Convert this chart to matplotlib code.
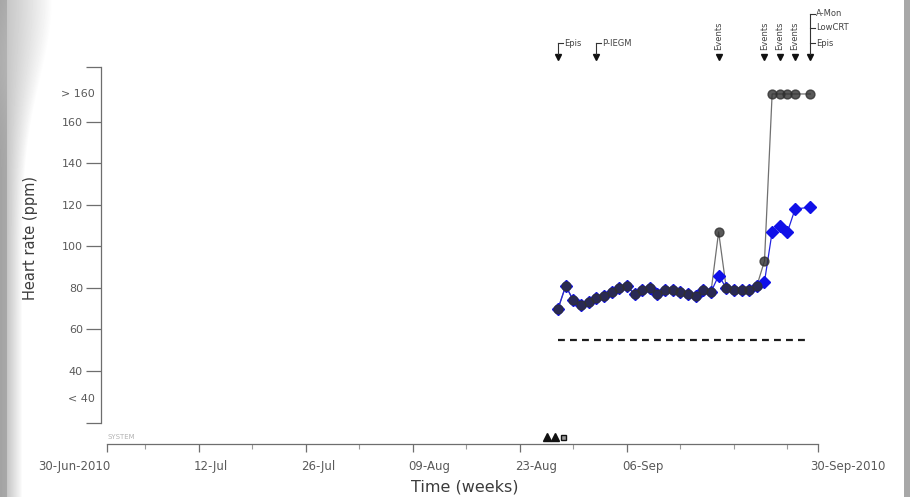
import numpy as np
import pandas as pd
import matplotlib
matplotlib.use("Agg")
import matplotlib.pyplot as plt
import matplotlib.dates as mdates
from matplotlib.transforms import blended_transform_factory, ScaledTranslation

W, H, DPI = 910, 497, 100

# ---- data -------------------------------------------------------------
dates = list(pd.date_range("2010-08-28", "2010-09-28", freq="D")) + [pd.Timestamp("2010-09-30")]
mean_rate = [70, 81, 74, 72, 73, 75, 76, 78, 80, 81, 77, 79, 80, 77, 79, 79, 78, 77, 76, 79,
             78, 86, 80, 79, 79, 79, 81, 83, 107, 110, 107, 118, 119]
inf = np.inf  # above the top of the scale (> 160)
max_rate = [70, 81, 74, 72, 73, 75, 76, 78, 80, 81, 77, 79, 80, 77, 79, 79, 78, 77, 76, 79,
            78, 107, 80, 79, 79, 79, 81, 93, inf, inf, inf, inf, inf]
lower_limit = 55

event_dates = ["2010-08-28", "2010-09-02", "2010-09-18", "2010-09-24",
               "2010-09-26", "2010-09-28", "2010-09-30"]
event_labels = [["Epis"], ["P-IEGM"], ["Events"], ["Events"], ["Events"], ["Events"],
                ["A-Mon", "LowCRT", "Epis"]]

episode_marks = ["2010-08-26 13:00", "2010-08-27 14:00"]
session_mark = ["2010-08-28 15:00"]

y_ticks = [40, 60, 80, 100, 120, 140, 160]
y_tick_labels = ["40", "60", "80", "100", "120", "140", "160"]
major_dates = ["2010-06-30", "2010-07-12", "2010-07-26", "2010-08-09", "2010-08-23",
               "2010-09-06", "2010-10-01"]
major_labels = ["30-Jun-2010", "12-Jul", "26-Jul", "09-Aug", "23-Aug", "06-Sep", "30-Sep-2010"]
minor_dates = ["2010-07-05", "2010-07-19", "2010-08-02", "2010-08-16", "2010-08-30",
               "2010-09-13", "2010-09-20", "2010-09-27"]

# ---- layout -----------------------------------------------------------
ABOVE_ROW, BELOW_ROW = 173.5, 26.5
Y_LO, Y_HI = 4.8, 186.5
SPINE_LO = 15.0
GRID = "#6e6e6e"
TXT = "#5a5a5a"


def dnum(d):
    return mdates.date2num(pd.Timestamp(d))


plt.rcParams["font.family"] = ["DejaVu Sans"]

fig = plt.figure(figsize=(W / DPI, H / DPI), dpi=DPI)
fig.patch.set_facecolor("white")

# soft grey frame on the left and right edges
bg = fig.add_axes([0, 0, 1, 1], zorder=-10)
bg.axis("off")
xx = np.arange(W)[None, :].astype(float)
yy = np.arange(H)[:, None].astype(float)
reach = 15 + 30 * np.exp(-(yy / 110.0) ** 2)
fade = np.clip(1 - (xx - 7) / reach, 0, 1) ** 0.9
shade = 1 - 0.22 * fade
shade = np.where(xx < 7, 0.64 + 0.02 * (xx / 7.0) + 0.04 * np.exp(-((yy - 60) / 60.0) ** 2), shade)
shade[:, 904:] = 0.66
bg.imshow(shade, cmap="gray", vmin=0, vmax=1, extent=(0, W, H, 0), aspect="auto",
          interpolation="bilinear")
bg.set_xlim(0, W)
bg.set_ylim(H, 0)

ax = fig.add_axes([107 / W, 1 - 444 / H, 711 / W, 377 / H])
ax.set_facecolor("none")

ax.set_xlim(pd.Timestamp(major_dates[0]), pd.Timestamp(major_dates[-1]))
ax.set_ylim(Y_LO, Y_HI)

for s in ("top", "right"):
    ax.spines[s].set_visible(False)
ax.spines["left"].set_position(("outward", 4.3))
ax.spines["left"].set_bounds(SPINE_LO, Y_HI)
ax.spines["left"].set_color(GRID)
ax.spines["left"].set_linewidth(0.9)
ax.spines["bottom"].set_color(GRID)
ax.spines["bottom"].set_linewidth(0.9)

ax.set_yticks([SPINE_LO] + y_ticks + [Y_HI])
ax.set_yticklabels([""] + y_tick_labels + [""])
ax.tick_params(axis="y", direction="out", length=11, width=0.9, color=GRID,
               labelsize=8, labelcolor=TXT, pad=2)

ax.set_xticks(pd.to_datetime(major_dates))
ax.set_xticklabels([])
ax.set_xticks(pd.to_datetime(minor_dates), minor=True)
ax.tick_params(axis="x", which="major", direction="out", length=6, width=0.9, color=GRID)
ax.tick_params(axis="x", which="minor", direction="out", length=3.5, width=0.8, color="#9a9a9a")

xlab_tr = blended_transform_factory(ax.transData, ax.transAxes)
for i, (d, lab) in enumerate(zip(major_dates, major_labels)):
    if i == 0:
        ha, dx = "right", 3
    elif i == len(major_dates) - 1:
        ha, dx = "left", -8
    else:
        ha, dx = "left", -5
    ax.text(dnum(d), -0.061, lab, ha=ha, va="center", fontsize=8.5, color=TXT,
            transform=xlab_tr + ScaledTranslation(dx / DPI, 0, fig.dpi_scale_trans),
            clip_on=False)

# out-of-range rows
ylab_tr = blended_transform_factory(ax.transAxes, ax.transData)
for val, lab in ((ABOVE_ROW, "> 160"), (BELOW_ROW, "< 40")):
    ax.text(0, val, lab, ha="right", va="center", fontsize=8, color=TXT,
            transform=ylab_tr + ScaledTranslation(-12 / DPI, 0, fig.dpi_scale_trans),
            clip_on=False)

ax.set_ylabel("Heart rate (ppm)", fontsize=10.5, color="#3c3c3c", va="center")
ax.yaxis.set_label_coords((30 - 107) / 711, (444 - 238) / 377)
ax.set_xlabel("Time (weeks)", fontsize=11.5, color="#3c3c3c", va="center")
ax.xaxis.set_label_coords((465 - 107) / 711, (444 - 487) / 377)

# ---- series ----------------------------------------------------------------
max_plot = np.where(np.isinf(np.array(max_rate, dtype=float)), ABOVE_ROW, max_rate)
ax.plot(dates, max_plot, color="#707070", lw=0.9, zorder=2)
ax.plot(dates, mean_rate, color="#2323e0", lw=0.9, zorder=2)
ax.plot(dates, mean_rate, ls="none", marker="D", ms=6, mfc="#1010e8", mec="#1010e8", zorder=3)
ax.plot(dates, max_plot, ls="none", marker="o", ms=6.4, mfc="#303030", mec="#303030",
        alpha=0.8, zorder=4)

ax.plot([dates[0], dates[-1]], [lower_limit, lower_limit], color="#1e1e1e", lw=1.6,
        ls=(0, (3.1, 2.3)), zorder=2)

# episode markers resting on the time axis
ax.plot([dnum(d) for d in episode_marks], [0.018] * len(episode_marks), ls="none",
        marker="^", ms=5.5, color="#111111", transform=xlab_tr, clip_on=False, zorder=5)
ax.plot([dnum(d) for d in session_mark], [0.018], ls="none", marker="s", ms=3.6,
        mfc="#9a9a9a", mec="#111111", mew=1.0, transform=xlab_tr, clip_on=False, zorder=5)
ax.text(0.0, 0.018, "SYSTEM", transform=ax.transAxes, fontsize=5, color="#b4b4b4",
        ha="left", va="center")

# ---- event annotations above the plot ----------------------------------------
ev_tr = blended_transform_factory(ax.transData, fig.transFigure)


def fy(p):
    return 1 - p / H


for d, labs in zip(event_dates, event_labels):
    t = dnum(d)
    ax.plot([t], [fy(57)], ls="none", marker="v", ms=5, color="#111111",
            transform=ev_tr, clip_on=False)
    if labs == ["Events"]:
        ax.text(t, fy(50), "Events", rotation=90, ha="center", va="bottom", fontsize=6,
                color="#444444", transform=ev_tr, clip_on=False)
        continue
    rows = [14, 28, 43][-len(labs):] if len(labs) > 1 else [43]
    ax.plot([t, t], [fy(54), fy(min(rows))], color="#333333", lw=0.8,
            transform=ev_tr, clip_on=False)
    for lab, r in zip(labs, rows):
        ax.plot([0, 5 / DPI], [fy(r), fy(r)], color="#333333", lw=0.8, clip_on=False,
                transform=blended_transform_factory(
                    fig.dpi_scale_trans + ScaledTranslation(t, 0, ev_tr), fig.transFigure))
        ax.text(t, fy(r), lab, ha="left", va="center", fontsize=6, color="#444444",
                transform=ev_tr + ScaledTranslation(6 / DPI, 0, fig.dpi_scale_trans),
                clip_on=False)

fig.savefig("out.png", dpi=DPI)
